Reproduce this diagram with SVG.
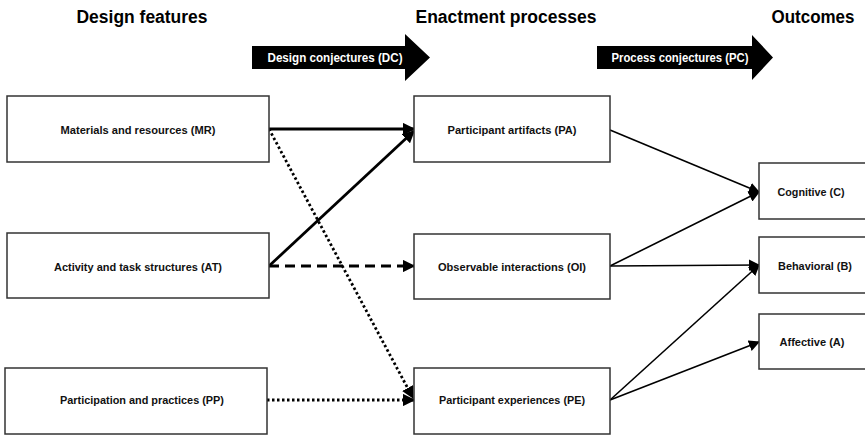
<svg xmlns="http://www.w3.org/2000/svg" width="865" height="435" viewBox="0 0 865 435">
<defs>
<style>
.box{fill:#fff;stroke:#333;stroke-width:1.5}
.lbl{font-family:"Liberation Sans",Arial,sans-serif;font-weight:bold;font-size:11.5px;fill:#111;text-anchor:middle}
.hdr{font-family:"Liberation Sans",Arial,sans-serif;font-weight:bold;font-size:18px;fill:#000}
.conj{font-family:"Liberation Sans",Arial,sans-serif;font-weight:bold;font-size:12px;fill:#fff;text-anchor:middle}
.thick{stroke:#000;stroke-width:2.8;fill:none}
.thin{stroke:#000;stroke-width:1.6;fill:none}
</style>
<marker id="ah" viewBox="0 0 10 10" refX="9" refY="5" markerWidth="4.5" markerHeight="4.5" orient="auto" markerUnits="strokeWidth"><path d="M0,0 L10,5 L0,10 z" fill="#000"/></marker>
<marker id="ahs" viewBox="0 0 10 10" refX="9" refY="5" markerWidth="7" markerHeight="7" orient="auto" markerUnits="strokeWidth"><path d="M0,0 L10,5 L0,10 z" fill="#000"/></marker>
</defs>
<g id="headers">
<text class="hdr" x="142" y="23" text-anchor="middle" textLength="131" lengthAdjust="spacingAndGlyphs">Design features</text>
<text class="hdr" x="506" y="23" text-anchor="middle" textLength="181" lengthAdjust="spacingAndGlyphs">Enactment processes</text>
<text class="hdr" x="813" y="23" text-anchor="middle" textLength="83" lengthAdjust="spacingAndGlyphs">Outcomes</text>
</g>
<g id="dc-arrow">
<path d="M252,46 L405,46 L405,34 L430,57.5 L405,81 L405,69 L252,69 Z" fill="#000"/>
<text class="conj" x="335" y="62" textLength="135" lengthAdjust="spacingAndGlyphs">Design conjectures (DC)</text>
</g>
<g id="pc-arrow">
<path d="M597,46 L752,46 L752,35 L773,57.5 L752,80 L752,69 L597,69 Z" fill="#000"/>
<text class="conj" x="680" y="62" textLength="137" lengthAdjust="spacingAndGlyphs">Process conjectures (PC)</text>
</g>
<g id="connectors">
<line class="thick" x1="269" y1="129" x2="414" y2="129" marker-end="url(#ah)"/>
<line class="thick" x1="269" y1="266" x2="414" y2="131" marker-end="url(#ah)"/>
<line class="thick" x1="269" y1="266" x2="414" y2="266" stroke-dasharray="10,6" marker-end="url(#ah)"/>
<line class="thick" x1="269" y1="129" x2="413" y2="398" stroke-dasharray="2.5,2.5" marker-end="url(#ah)"/>
<line class="thick" x1="267" y1="400" x2="414" y2="400" stroke-dasharray="2.5,2.5" marker-end="url(#ah)"/>
<line class="thin" x1="610" y1="130" x2="759" y2="192" marker-end="url(#ahs)"/>
<line class="thin" x1="610" y1="266" x2="759" y2="192" marker-end="url(#ahs)"/>
<line class="thin" x1="610" y1="266" x2="759" y2="265" marker-end="url(#ahs)"/>
<line class="thin" x1="610" y1="400" x2="759" y2="265" marker-end="url(#ahs)"/>
<line class="thin" x1="610" y1="400" x2="759" y2="342" marker-end="url(#ahs)"/>
</g>
<g id="MR"><rect class="box" x="7" y="96" width="262" height="66"/><text class="lbl" x="138" y="134" textLength="155" lengthAdjust="spacingAndGlyphs">Materials and resources (MR)</text></g>
<g id="AT"><rect class="box" x="7" y="233" width="262" height="65"/><text class="lbl" x="138" y="271" textLength="168" lengthAdjust="spacingAndGlyphs">Activity and task structures (AT)</text></g>
<g id="PP"><rect class="box" x="5" y="368" width="262" height="66"/><text class="lbl" x="142" y="404" textLength="164" lengthAdjust="spacingAndGlyphs">Participation and practices (PP)</text></g>
<g id="PA"><rect class="box" x="414" y="96" width="196" height="66"/><text class="lbl" x="512" y="134" textLength="129" lengthAdjust="spacingAndGlyphs">Participant artifacts (PA)</text></g>
<g id="OI"><rect class="box" x="414" y="234" width="196" height="65"/><text class="lbl" x="512" y="271" textLength="148" lengthAdjust="spacingAndGlyphs">Observable interactions (OI)</text></g>
<g id="PE"><rect class="box" x="414" y="368" width="196" height="66"/><text class="lbl" x="512" y="404" textLength="146" lengthAdjust="spacingAndGlyphs">Participant experiences (PE)</text></g>
<g id="C"><rect class="box" x="759" y="163" width="115" height="56"/><text class="lbl" x="811" y="196" textLength="67" lengthAdjust="spacingAndGlyphs">Cognitive (C)</text></g>
<g id="B"><rect class="box" x="759" y="237" width="115" height="56"/><text class="lbl" x="815" y="270" textLength="74" lengthAdjust="spacingAndGlyphs">Behavioral (B)</text></g>
<g id="A"><rect class="box" x="759" y="314" width="115" height="55"/><text class="lbl" x="812" y="346" textLength="65" lengthAdjust="spacingAndGlyphs">Affective (A)</text></g>
</svg>
